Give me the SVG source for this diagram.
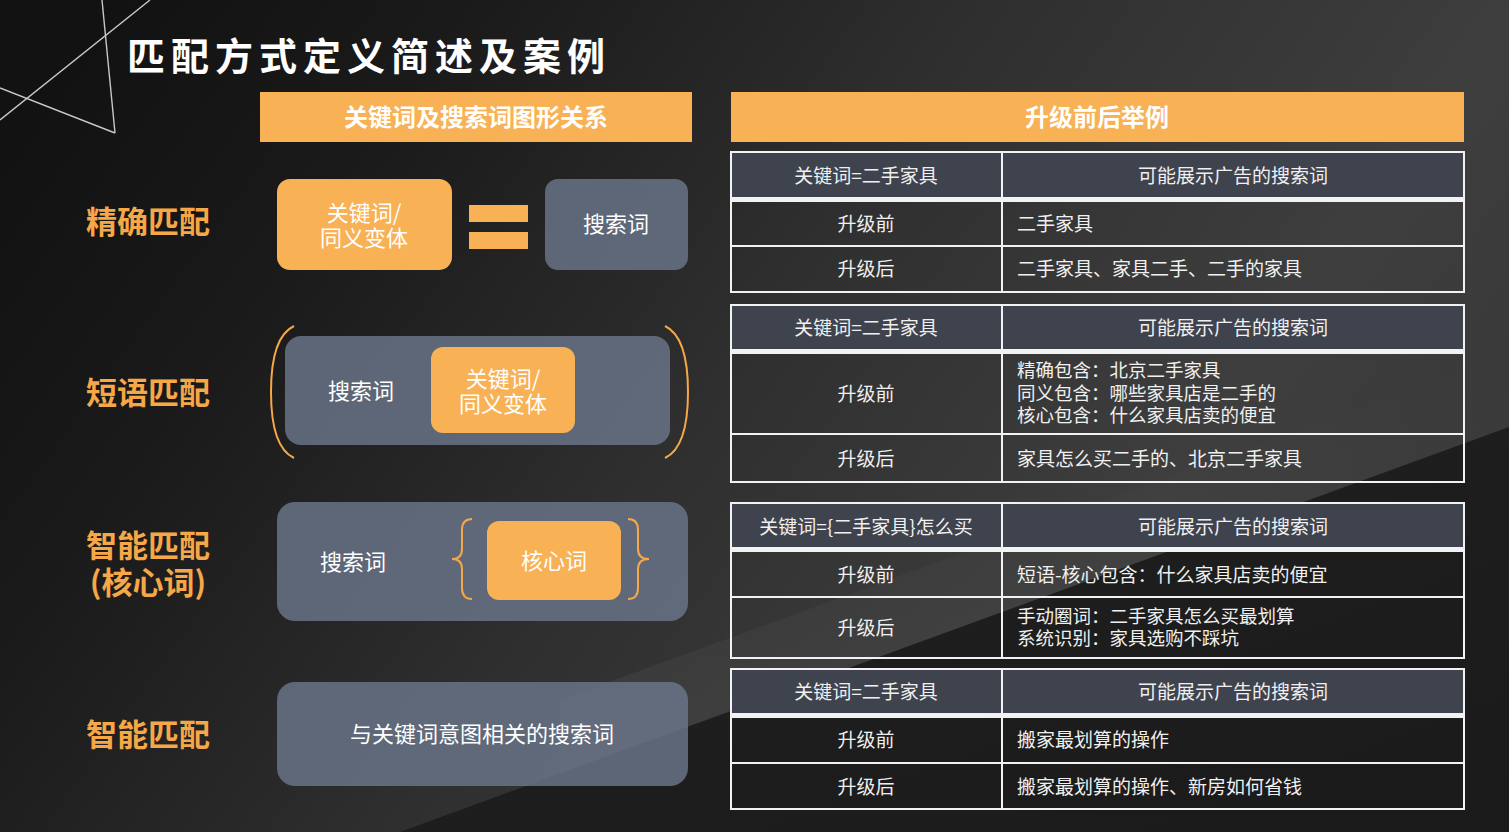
<svg xmlns="http://www.w3.org/2000/svg" width="1509" height="832" viewBox="0 0 1509 832">
<defs>
<linearGradient id="bg" x1="0" y1="0.2" x2="1" y2="0.6">
<stop offset="0" stop-color="#121212"/>
<stop offset="0.2" stop-color="#1a1a1a"/>
<stop offset="0.5" stop-color="#2f2f2f"/>
<stop offset="0.8" stop-color="#3e3e3e"/>
<stop offset="1" stop-color="#383838"/>
</linearGradient>
<linearGradient id="dark" x1="0" y1="0" x2="1" y2="1">
<stop offset="0" stop-color="#222"/>
<stop offset="1" stop-color="#191919"/>
</linearGradient>
<linearGradient id="hl" x1="0" y1="1" x2="0" y2="0">
<stop offset="0" stop-color="#4a4a4a" stop-opacity="0.8"/>
<stop offset="1" stop-color="#4a4a4a" stop-opacity="0"/>
</linearGradient>
<style>
.cjk{font-family:"Noto Sans CJK SC","Noto Sans",sans-serif}
.w{fill:#ffffff}
.t{fill:#f0f0f0;font-size:19px;font-family:"Noto Sans CJK SC","Noto Sans",sans-serif}
.m{font-size:18.5px}
.c{text-anchor:middle;dominant-baseline:central;transform:translateY(-2px)}
.l{dominant-baseline:central;transform:translateY(-2px)}
.lab{fill:#F6A747;font-size:31px;font-weight:700;font-family:"Noto Sans CJK SC","Noto Sans",sans-serif;text-anchor:middle;dominant-baseline:central;transform:translateY(-2px)}
.org{fill:#F8B155}
.gray{fill:#6b768a;fill-opacity:0.82}
.bt{fill:#ffffff;font-size:22px;font-family:"Noto Sans CJK SC","Noto Sans",sans-serif;text-anchor:middle;dominant-baseline:central;transform:translateY(-2px)}
.hdr{fill:#3f434e}
.bd{fill:none;stroke:#f2f2f2;stroke-width:2}
.ln{stroke:#f2f2f2;stroke-width:2}
.br{fill:none;stroke:#F6A747;stroke-width:2}
.deco{fill:none;stroke:#c8c8c8;stroke-width:1.4}
</style>
</defs>

<!-- background -->
<rect x="0" y="0" width="1509" height="832" fill="url(#bg)"/>
<polygon points="560,700 1509,353 1509,427 560,773" fill="url(#hl)" opacity="0.6"/>
<polygon points="0,978 1509,427 1509,832 0,832" fill="url(#dark)"/>

<!-- corner decoration -->
<g id="deco">
<line class="deco" x1="102" y1="0" x2="115" y2="133"/>
<line class="deco" x1="0" y1="88" x2="115" y2="133"/>
<line class="deco" x1="150" y1="0" x2="0" y2="120"/>
</g>

<!-- title -->
<g id="title">
<text x="127" y="55" class="cjk w l" font-size="38" font-weight="700" letter-spacing="6">匹配方式定义简述及案例</text>
</g>

<!-- section headers -->
<g id="hdr-left">
<rect x="260" y="92" width="432" height="50" class="org"/>
<text x="476" y="117" class="cjk w c" font-size="24" font-weight="700">关键词及搜索词图形关系</text>
</g>
<g id="hdr-right">
<rect x="731" y="92" width="733" height="50" class="org"/>
<text x="1097" y="117" class="cjk w c" font-size="24" font-weight="700">升级前后举例</text>
</g>

<!-- left labels -->
<g id="label-exact"><text x="148" y="221" class="lab">精确匹配</text></g>
<g id="label-phrase"><text x="148" y="392" class="lab">短语匹配</text></g>
<g id="label-smart-core"><text x="148" y="545" class="lab">智能匹配</text><text x="148" y="582" class="lab">(核心词)</text></g>
<g id="label-smart"><text x="148" y="734" class="lab">智能匹配</text></g>

<!-- exact match diagram -->
<g id="exact-keyword">
<rect x="277" y="179" width="175" height="91" rx="13" class="org"/>
<text x="364" y="213" class="bt" font-size="20">关键词/</text>
<text x="364" y="238" class="bt" font-size="20">同义变体</text>
</g>
<g id="exact-equals">
<rect x="469" y="205" width="59" height="17" class="org"/>
<rect x="469" y="232" width="59" height="17" class="org"/>
</g>
<g id="exact-search">
<rect x="545" y="179" width="143" height="91" rx="13" class="gray"/>
<text x="616" y="224" class="bt">搜索词</text>
</g>

<!-- phrase match diagram -->
<g id="phrase">
<path class="br" d="M294,326 C277,334 271,360 271,392 C271,424 277,450 294,458"/>
<path class="br" d="M665,326 C682,334 688,360 688,392 C688,424 682,450 665,458"/>
<rect x="285" y="336" width="385" height="109" rx="16" class="gray"/>
<text x="361" y="391" class="bt">搜索词</text>
<rect x="431" y="347" width="144" height="86" rx="12" class="org"/>
<text x="503" y="379" class="bt" font-size="20">关键词/</text>
<text x="503" y="404" class="bt" font-size="20">同义变体</text>
</g>

<!-- smart match (core) diagram -->
<g id="smart-core">
<rect x="277" y="502" width="411" height="119" rx="18" class="gray"/>
<text x="353" y="562" class="bt">搜索词</text>
<path class="br" d="M472,519 Q462,519 462,530 L462,549 Q462,559 452,559 Q462,559 462,569 L462,588 Q462,599 472,599"/>
<path class="br" d="M628,519 Q638,519 638,530 L638,549 Q638,559 649,559 Q638,559 638,569 L638,588 Q638,599 628,599"/>
<rect x="487" y="521" width="134" height="79" rx="12" class="org"/>
<text x="554" y="561" class="bt">核心词</text>
</g>

<!-- smart match diagram -->
<g id="smart">
<rect x="277" y="682" width="411" height="104" rx="18" class="gray"/>
<text x="482" y="734" class="bt">与关键词意图相关的搜索词</text>
</g>

<!-- table 1 -->
<g id="table1">
<rect x="731" y="152" width="733" height="46" class="hdr"/>
<rect x="731" y="197" width="733" height="5" fill="#f2f2f2"/>
<line class="ln" x1="731" y1="246" x2="1464" y2="246"/>
<line class="ln" x1="1002" y1="152" x2="1002" y2="292"/>
<rect x="731" y="152" width="733" height="140" class="bd"/>
<text x="866" y="176" class="t c">关键词=二手家具</text>
<text x="1233" y="176" class="t c">可能展示广告的搜索词</text>
<text x="866" y="224" class="t c">升级前</text>
<text x="1017" y="224" class="t l">二手家具</text>
<text x="866" y="269" class="t c">升级后</text>
<text x="1017" y="269" class="t l">二手家具、家具二手、二手的家具</text>
</g>

<!-- table 2 -->
<g id="table2">
<rect x="731" y="305" width="733" height="45" class="hdr"/>
<rect x="731" y="349" width="733" height="5" fill="#f2f2f2"/>
<line class="ln" x1="731" y1="434" x2="1464" y2="434"/>
<line class="ln" x1="1002" y1="305" x2="1002" y2="482"/>
<rect x="731" y="305" width="733" height="177" class="bd"/>
<text x="866" y="328" class="t c">关键词=二手家具</text>
<text x="1233" y="328" class="t c">可能展示广告的搜索词</text>
<text x="866" y="394" class="t c">升级前</text>
<text x="1017" y="371" class="t m l">精确包含：北京二手家具</text>
<text x="1017" y="394" class="t m l">同义包含：哪些家具店是二手的</text>
<text x="1017" y="416" class="t m l">核心包含：什么家具店卖的便宜</text>
<text x="866" y="459" class="t c">升级后</text>
<text x="1017" y="459" class="t l">家具怎么买二手的、北京二手家具</text>
</g>

<!-- table 3 -->
<g id="table3">
<rect x="731" y="503" width="733" height="45" class="hdr"/>
<rect x="731" y="547" width="733" height="5" fill="#f2f2f2"/>
<line class="ln" x1="731" y1="597" x2="1464" y2="597"/>
<line class="ln" x1="1002" y1="503" x2="1002" y2="658"/>
<rect x="731" y="503" width="733" height="155" class="bd"/>
<text x="866" y="527" class="t c">关键词={二手家具}怎么买</text>
<text x="1233" y="527" class="t c">可能展示广告的搜索词</text>
<text x="866" y="575" class="t c">升级前</text>
<text x="1017" y="575" class="t l">短语-核心包含：什么家具店卖的便宜</text>
<text x="866" y="628" class="t c">升级后</text>
<text x="1017" y="617" class="t m l">手动圈词：二手家具怎么买最划算</text>
<text x="1017" y="639" class="t m l">系统识别：家具选购不踩坑</text>
</g>

<!-- table 4 -->
<g id="table4">
<rect x="731" y="669" width="733" height="45" class="hdr"/>
<rect x="731" y="713" width="733" height="5" fill="#f2f2f2"/>
<line class="ln" x1="731" y1="763" x2="1464" y2="763"/>
<line class="ln" x1="1002" y1="669" x2="1002" y2="809"/>
<rect x="731" y="669" width="733" height="140" class="bd"/>
<text x="866" y="692" class="t c">关键词=二手家具</text>
<text x="1233" y="692" class="t c">可能展示广告的搜索词</text>
<text x="866" y="740" class="t c">升级前</text>
<text x="1017" y="740" class="t l">搬家最划算的操作</text>
<text x="866" y="787" class="t c">升级后</text>
<text x="1017" y="787" class="t l">搬家最划算的操作、新房如何省钱</text>
</g>

<g id="connectors"/>
</svg>
